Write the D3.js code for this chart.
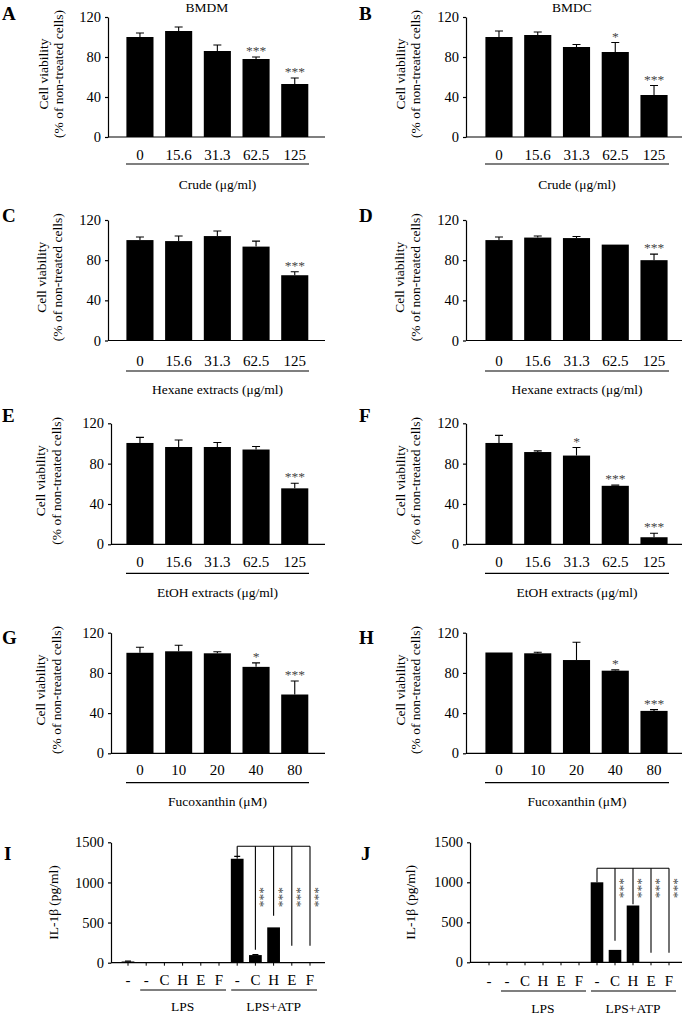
<!DOCTYPE html>
<html><head><meta charset="utf-8">
<script src="https://cdn.jsdelivr.net/npm/d3@7"></script>
<style>
body{margin:0;background:#fff}
text{font-family:"Liberation Serif","Times New Roman",serif;fill:#000}
</style>
</head><body><svg id="c" width="684" height="1016"></svg>
<script>
// ---------- data ----------
const concExtract = ["0","15.6","31.3","62.5","125"];
const concFuco = ["0","10","20","40","80"];
const viabilityTicks = [0,40,80,120];
const il1bTicks = [0,500,1000,1500];

const meanA=[100,106,86,78,53],        errA=[4,4,6,2,6],          sigA=["","","","***","***"];
const meanB=[100,102,90,85,42],        errB=[6,3,2.5,9.5,9.5],    sigB=["","","","*","***"];
const meanC=[100,99,104,93.5,65],      errC=[3,5,5,5.5,3.5],      sigC=["","","","","***"];
const meanD=[100,102.5,102,95.5,80],   errD=[3,1.5,1.5,0,6],      sigD=["","","","","***"];
const meanE=[100.5,96.5,96.5,94,55.5], errE=[5.5,7,4.5,3,5],      sigE=["","","","","***"];
const meanF=[100.5,91.5,88,58,7],      errF=[7.5,1.2,8,0.7,4],    sigF=["","","*","***","***"];
const meanG=[100,101.5,99.5,86,58.5],  errG=[5.5,6,1.5,4,13.5],   sigG=["","","","*","***"];
const meanH=[100.3,99.5,92.8,82.2,42.2], errH=[0,1,17.7,0.8,1.3], sigH=["","","","*","***"];

const ilCats = ["-","-","C","H","E","F","-","C","H","E","F"];
const ilGroups = ["LPS","LPS+ATP"];
const il1bI = [15,0,0,0,0,0,1295,95,440,0,0];
const errI  = [5,0,0,0,0,0,30,5,0,0,0];
const bracketI = 1450;                         // bracket level (pg/ml)
const dropEndI = [1325,160,585,210,210];       // where each bracket leg ends (pg/ml)
const il1bJ = [0,0,0,0,0,0,1000,155,710,0,0];
const errJ  = [0,0,0,0,0,0,0,0,0,0,0];
const bracketJ = 1175;
const dropEndJ = [1000,270,725,120,120];
const sigIL = ["***","***","***","***"];

// ---------- drawing ----------
const svg = d3.select("#c");
const FS = 13.5, FX = 15, FY = 14.5;

function panelLetter(t, x, y){
  svg.append("text").attr("x",x).attr("y",y).attr("dy","0.35em")
    .attr("font-size",19).attr("font-weight","bold").text(t);
}

function viabilityPanel(c){
  const g = svg.append("g");
  const y = d3.scaleLinear().domain([0,120]).range([c.yB, c.yT]);
  const x = d3.scaleBand().domain(c.cats).range(c.band).paddingInner(0.3).paddingOuter(0.15);
  const ya = g.append("g").attr("transform",`translate(${c.ax},0)`)
    .call(d3.axisLeft(y).tickValues(viabilityTicks).tickSize(3).tickSizeOuter(0).tickPadding(4));
  ya.attr("font-family",null).attr("font-size",FY);
  ya.selectAll("path,line").attr("stroke","#000").attr("stroke-width",1.2);
  g.append("line").attr("x1",c.ax).attr("x2",c.axEnd).attr("y1",c.yB).attr("y2",c.yB)
    .attr("stroke","#000").attr("stroke-width",1.2);
  const xa = g.append("g").attr("transform",`translate(0,${c.yB})`)
    .call(d3.axisBottom(x).tickSize(0).tickPadding(c.tickY + 0.33*FX - c.yB - 0.71*FX));
  xa.attr("font-family",null).attr("font-size",FX);
  xa.select(".domain").remove();
  const data = c.cats.map((k,i)=>({k, v:c.mean[i], e:c.err[i], s:c.sig[i]}));
  g.selectAll("rect.bar").data(data).join("rect").attr("class","bar")
    .attr("x",d=>x(d.k)).attr("width",x.bandwidth())
    .attr("y",d=>y(d.v)).attr("height",d=>y(0)-y(d.v)).attr("fill","#000");
  const cap = 4;
  g.selectAll("path.err").data(data.filter(d=>d.e>0)).join("path").attr("class","err")
    .attr("d",d=>{const cx=x(d.k)+x.bandwidth()/2, t=y(d.v+d.e), b=y(d.v);
      return `M${cx},${b}V${t}M${cx-cap},${t}H${cx+cap}`;})
    .attr("stroke","#000").attr("stroke-width",1.1).attr("fill","none");
  g.selectAll("text.sig").data(data.filter(d=>d.s)).join("text").attr("class","sig")
    .attr("x",d=>x(d.k)+x.bandwidth()/2).attr("y",d=>y(d.v+d.e)-2)
    .attr("text-anchor","middle").attr("font-size",13.5).style("fill","#444").text(d=>d.s);
  g.append("line").attr("x1",c.ul[0]).attr("x2",c.ul[1]).attr("y1",c.ulY).attr("y2",c.ulY)
    .attr("stroke","#000").attr("stroke-width",1.2);
  g.append("text").attr("x",(c.ul[0]+c.ul[1])/2).attr("y",c.xlY).attr("dy","0.35em")
    .attr("text-anchor","middle").attr("font-size",FS).text(c.xlabel);
  const cy = (c.yT+c.yB)/2 - 3;
  g.append("text").attr("transform",`translate(${c.yl1},${cy}) rotate(-90)`).attr("dy","0.35em")
    .attr("text-anchor","middle").attr("font-size",FS).text("Cell viability");
  g.append("text").attr("transform",`translate(${c.yl2},${cy}) rotate(-90)`).attr("dy","0.35em")
    .attr("text-anchor","middle").attr("font-size",FS).text("(% of non-treated cells)");
  if(c.title) g.append("text").attr("x",c.titleX).attr("y",7).attr("dy","0.35em")
    .attr("text-anchor","middle").attr("font-size",FS).text(c.title);
  panelLetter(c.letter, c.lx, c.ly);
}

const L = {ax:108, axEnd:325, band:[120.6,314.1], ul:[126,309], yl1:43, yl2:58, lx:2};
const R = {ax:466, axEnd:682, band:[479.6,673.4], ul:[485,669], yl1:400, yl2:415, lx:359};

const rows = [
  {yT:17,    yB:137,   tickY:155,   ulY:164,   xlY:184,   ly:13},
  {yT:220,   yB:340.5, tickY:361.5, ulY:371,   xlY:389,   ly:215},
  {yT:423.3, yB:544.3, tickY:561.7, ulY:573.3, xlY:592.7, ly:415},
  {yT:632.7, yB:753.3, tickY:770,   ulY:782.7, xlY:801,   ly:637}
];

viabilityPanel({...L, ...rows[0], cats:concExtract, mean:meanA, err:errA, sig:sigA, letter:"A", xlabel:"Crude (μg/ml)", title:"BMDM", titleX:207});
viabilityPanel({...R, ...rows[0], cats:concExtract, mean:meanB, err:errB, sig:sigB, letter:"B", xlabel:"Crude (μg/ml)", title:"BMDC", titleX:572});
viabilityPanel({...L, ...rows[1], cats:concExtract, mean:meanC, err:errC, sig:sigC, letter:"C", xlabel:"Hexane extracts (μg/ml)", yl1:41, yl2:57});
viabilityPanel({...R, ...rows[1], cats:concExtract, mean:meanD, err:errD, sig:sigD, letter:"D", xlabel:"Hexane extracts (μg/ml)", yl1:399});
viabilityPanel({...L, ...rows[2], ax:111, cats:concExtract, mean:meanE, err:errE, sig:sigE, letter:"E", xlabel:"EtOH extracts (μg/ml)", yl1:40, yl2:56});
viabilityPanel({...R, ...rows[2], cats:concExtract, mean:meanF, err:errF, sig:sigF, letter:"F", xlabel:"EtOH extracts (μg/ml)"});
viabilityPanel({...L, ...rows[3], ax:111, cats:concFuco, mean:meanG, err:errG, sig:sigG, letter:"G", xlabel:"Fucoxanthin (μM)", yl1:40, yl2:56});
viabilityPanel({...R, ...rows[3], cats:concFuco, mean:meanH, err:errH, sig:sigH, letter:"H", xlabel:"Fucoxanthin (μM)"});

function ilPanel(c){
  const g = svg.append("g");
  const y = d3.scaleLinear().domain([0,1500]).range([c.yB, c.yT]);
  const idx = ilCats.map((d,i)=>i);
  const x = d3.scaleBand().domain(idx).range(c.band).paddingInner(0.3).paddingOuter(0.15);
  const cx = i => x(i)+x.bandwidth()/2;
  const ya = g.append("g").attr("transform",`translate(${c.ax},0)`)
    .call(d3.axisLeft(y).tickValues(il1bTicks).tickFormat(d3.format("d")).tickSize(3).tickSizeOuter(0).tickPadding(4));
  ya.attr("font-family",null).attr("font-size",FY);
  ya.selectAll("path,line").attr("stroke","#000").attr("stroke-width",1.2);
  g.append("line").attr("x1",c.ax).attr("x2",c.axEnd).attr("y1",c.yB).attr("y2",c.yB)
    .attr("stroke","#000").attr("stroke-width",1.2);
  const xa = g.append("g").attr("transform",`translate(0,${c.yB})`)
    .call(d3.axisBottom(x).tickFormat(i=>ilCats[i]).tickSize(3).tickPadding(c.tickY + 0.33*FX - c.yB - 0.71*FX - 3));
  xa.attr("font-family",null).attr("font-size",FX);
  xa.select(".domain").remove();
  xa.selectAll("line").attr("stroke","#000").attr("stroke-width",1);
  const data = idx.map(i=>({i, v:c.vals[i], e:c.errs[i]}));
  g.selectAll("rect.bar").data(data).join("rect")
    .attr("x",d=>x(d.i)).attr("width",x.bandwidth())
    .attr("y",d=>y(d.v)).attr("height",d=>y(0)-y(d.v)).attr("fill","#000");
  g.selectAll("path.err").data(data.filter(d=>d.e>0)).join("path")
    .attr("d",d=>{const t=y(d.v+d.e), b=y(d.v), m=cx(d.i);
      return `M${m},${b}V${t}M${m-3},${t}H${m+3}`;})
    .attr("stroke","#000").attr("stroke-width",1.1).attr("fill","none");
  const legs = [6,7,8,9,10];
  g.append("line").attr("x1",cx(6)).attr("x2",cx(10)).attr("y1",y(c.bracket)).attr("y2",y(c.bracket))
    .attr("stroke","#000").attr("stroke-width",1.1);
  g.selectAll("line.leg").data(legs).join("line").attr("class","leg")
    .attr("x1",i=>cx(i)).attr("x2",i=>cx(i)).attr("y1",y(c.bracket))
    .attr("y2",(i,k)=>y(c.drop[k])).attr("stroke","#000").attr("stroke-width",1.1);
  g.selectAll("text.sig").data(legs.slice(1)).join("text").attr("class","sig")
    .attr("transform",i=>`translate(${cx(i)+1},${c.starY}) rotate(90)`)
    .attr("text-anchor","middle").attr("font-size",13.5).style("fill","#444")
    .text((i,k)=>sigIL[k]);
  [[1,5],[6,10]].forEach((r,k)=>{
    const x1 = cx(r[0])-6, x2 = cx(r[1])+7;
    g.append("line").attr("x1",x1).attr("x2",x2).attr("y1",c.ulY).attr("y2",c.ulY)
      .attr("stroke","#000").attr("stroke-width",1.2);
    g.append("text").attr("x",(cx(r[0])+cx(r[1]))/2).attr("y",c.gY).attr("dy","0.35em")
      .attr("text-anchor","middle").attr("font-size",FS).text(ilGroups[k]);
  });
  g.append("text").attr("transform",`translate(${c.ylX},${(c.yT+c.yB)/2}) rotate(-90)`).attr("dy","0.35em")
    .attr("text-anchor","middle").attr("font-size",FS).text("IL-1β (pg/ml)");
  panelLetter(c.letter, c.lx, 853);
}

ilPanel({ax:111, axEnd:325, band:[118.9,319.1], yT:842.3, yB:962.7, tickY:980, ulY:990, gY:1006.5,
  vals:il1bI, errs:errI, bracket:bracketI, drop:dropEndI, starY:897, ylX:53, letter:"I", lx:4});
ilPanel({ax:470, axEnd:682, band:[480,678], yT:842.3, yB:962.3, tickY:981, ulY:991, gY:1008,
  vals:il1bJ, errs:errJ, bracket:bracketJ, drop:dropEndJ, starY:888, ylX:410, letter:"J", lx:361});
</script>
</body></html>
